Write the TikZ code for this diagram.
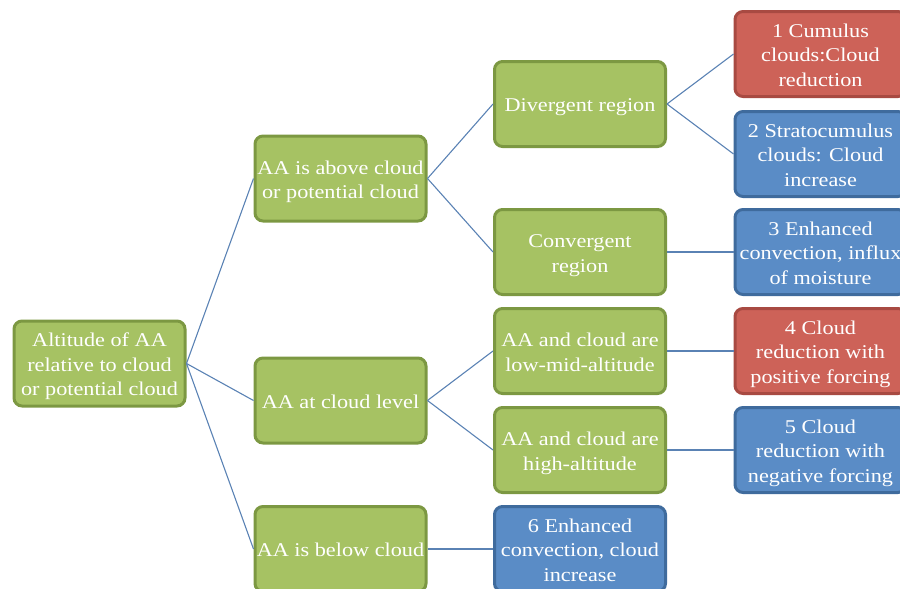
\documentclass[tikz,border=0pt]{standalone}
\usepackage{fontspec}
\setmainfont{Liberation Serif}[FakeStretch=1.14]
\definecolor{gfill}{HTML}{A6C263}
\definecolor{gline}{HTML}{7C9842}
\definecolor{rfill}{HTML}{CD6258}
\definecolor{rline}{HTML}{A84A42}
\definecolor{bfill}{HTML}{5A8CC6}
\definecolor{bline}{HTML}{3F6B9D}
\definecolor{conn}{HTML}{5A82B4}
\newcommand\boxtxt[1]{\raisebox{-3pt}[\height][\depth]{\begin{tabular}{@{}c@{}}#1\end{tabular}}}
\begin{document}
\begin{tikzpicture}[x=1pt,y=-1pt,
  box/.style={rounded corners=8pt,line width=3pt,minimum width=171pt,minimum height=85pt,
    text=white,font=\fontsize{19.5}{24.5}\selectfont,inner sep=0pt},
  gbox/.style={box,fill=gfill,draw=gline},
  rbox/.style={box,fill=rfill,draw=rline},
  bbox/.style={box,fill=bfill,draw=bline},
  link/.style={draw=conn,line width=1.1pt}]
\useasboundingbox (0,0) rectangle (900,589);
\clip (0,0) rectangle (900,589);
\node[gbox] (root) at (99.5,363.5) {\boxtxt{Altitude of AA\\relative to cloud\\or potential cloud}};
\node[gbox] (above) at (340.5,178.5) {\boxtxt{AA is above cloud\\or potential cloud}};
\node[gbox] (level) at (340.5,400.5) {\boxtxt{AA at cloud level}};
\node[gbox] (below) at (340.5,549) {\boxtxt{AA is below cloud}};
\node[gbox] (div) at (580,104) {\boxtxt{Divergent region}};
\node[gbox] (conv) at (580,252) {\boxtxt{Convergent\\region}};
\node[gbox] (low) at (580,351) {\boxtxt{AA and cloud are\\low-mid-altitude}};
\node[gbox] (high) at (580,450) {\boxtxt{AA and cloud are\\high-altitude}};
\node[bbox] (six) at (580,549) {\boxtxt{6 Enhanced\\convection, cloud\\increase}};
\node[rbox] (one) at (820.5,54) {\boxtxt{1 Cumulus\\clouds:Cloud\\reduction}};
\node[bbox] (two) at (820.5,154) {\boxtxt{2 Stratocumulus\\clouds: Cloud\\increase}};
\node[bbox] (three) at (820.5,252) {\boxtxt{3 Enhanced\\convection, influx\\of moisture}};
\node[rbox] (four) at (820.5,351) {\boxtxt{4 Cloud\\reduction with\\positive forcing}};
\node[bbox] (five) at (820.5,450) {\boxtxt{5 Cloud\\reduction with\\negative forcing}};
\draw[link] (root.east) -- (above.west);
\draw[link] (root.east) -- (level.west);
\draw[link] (root.east) -- (below.west);
\draw[link] (above.east) -- (div.west);
\draw[link] (above.east) -- (conv.west);
\draw[link] (level.east) -- (low.west);
\draw[link] (level.east) -- (high.west);
\draw[link] (below.east) -- (six.west);
\draw[link] (div.east) -- (one.west);
\draw[link] (div.east) -- (two.west);
\draw[link] (conv.east) -- (three.west);
\draw[link] (low.east) -- (four.west);
\draw[link] (high.east) -- (five.west);
\end{tikzpicture}
\end{document}
